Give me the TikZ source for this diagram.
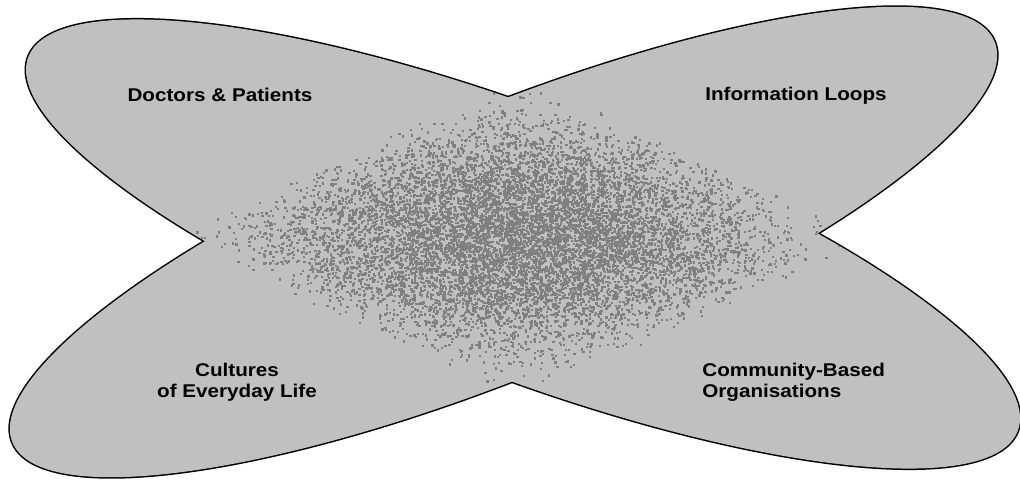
\documentclass[tikz,border=0pt]{standalone}
\usepackage{fontspec}
\newfontfamily\labelfont{Liberation Sans}[FakeStretch=1.12]
\usepackage{tikz}
\definecolor{petalgray}{HTML}{C0C0C0}
\definecolor{speckgray}{HTML}{808080}

\begin{document}
\begin{tikzpicture}[x=0.02cm, y=0.02cm]
        % Styles
        \tikzstyle{petal} = [fill=petalgray, draw=black]
        \tikzstyle{speck} = [fill=speckgray]
        \tikzstyle{tag} = [font=\labelfont\bfseries\fontsize{10.5}{12}\selectfont, inner sep=0pt]

        \useasboundingbox (0,0) rectangle (1020,481);

        % Petals (wide stroke, then refilled so only the outer rim stays)
        \foreach \ang/\cx/\cy/\rx in {-20.7/523/237/10.58, 22.2/503.5/239/10.61}
            \filldraw[petal, line width=1.7pt, rotate around={\ang:(\cx,\cy)}] (\cx,\cy) ellipse [x radius=\rx cm, y radius=2.66cm];
        \foreach \ang/\cx/\cy/\rx in {-20.7/523/237/10.58, 22.2/503.5/239/10.61}
            \fill[petalgray, rotate around={\ang:(\cx,\cy)}] (\cx,\cy) ellipse [x radius=\rx cm, y radius=2.66cm];

        % Speckled overlap, spread over the diamond between the petals
        \begin{scope}
            \clip {[rotate around={-20.7:(523,237)}] (523,237) ellipse [x radius=10.58cm, y radius=2.66cm]}
                  {[rotate around={22.2:(503.5,239)}] (503.5,239) ellipse [x radius=10.61cm, y radius=2.66cm]};
            \pgfmathsetseed{2718}
            \foreach \i in {1,...,10000}{
                \pgfmathsetmacro\su{110*rand+70*rand}
                \pgfmathsetmacro\sv{110*rand+70*rand}
                \pgfmathsetmacro\dx{1.0*((\su)+(\sv))}
                \pgfmathsetmacro\dy{0.45*((\sv)-(\su))}
                \fill[speck] (520+\dx,241+\dy) rectangle ++(2.3,2.3);
            }
        \end{scope}

        % Labels
        \node [tag] (doctors) at (220,386) {Doctors \& Patients};
        \node [tag] (infoloops) at (796,385) {Information Loops};
        \node [tag, align=center] (cultures) at (237,99) {Cultures\\of Everyday Life};
        \node [tag, align=left, anchor=west] (community) at (702,99) {Community-Based\\Organisations};
\end{tikzpicture}
\end{document}
